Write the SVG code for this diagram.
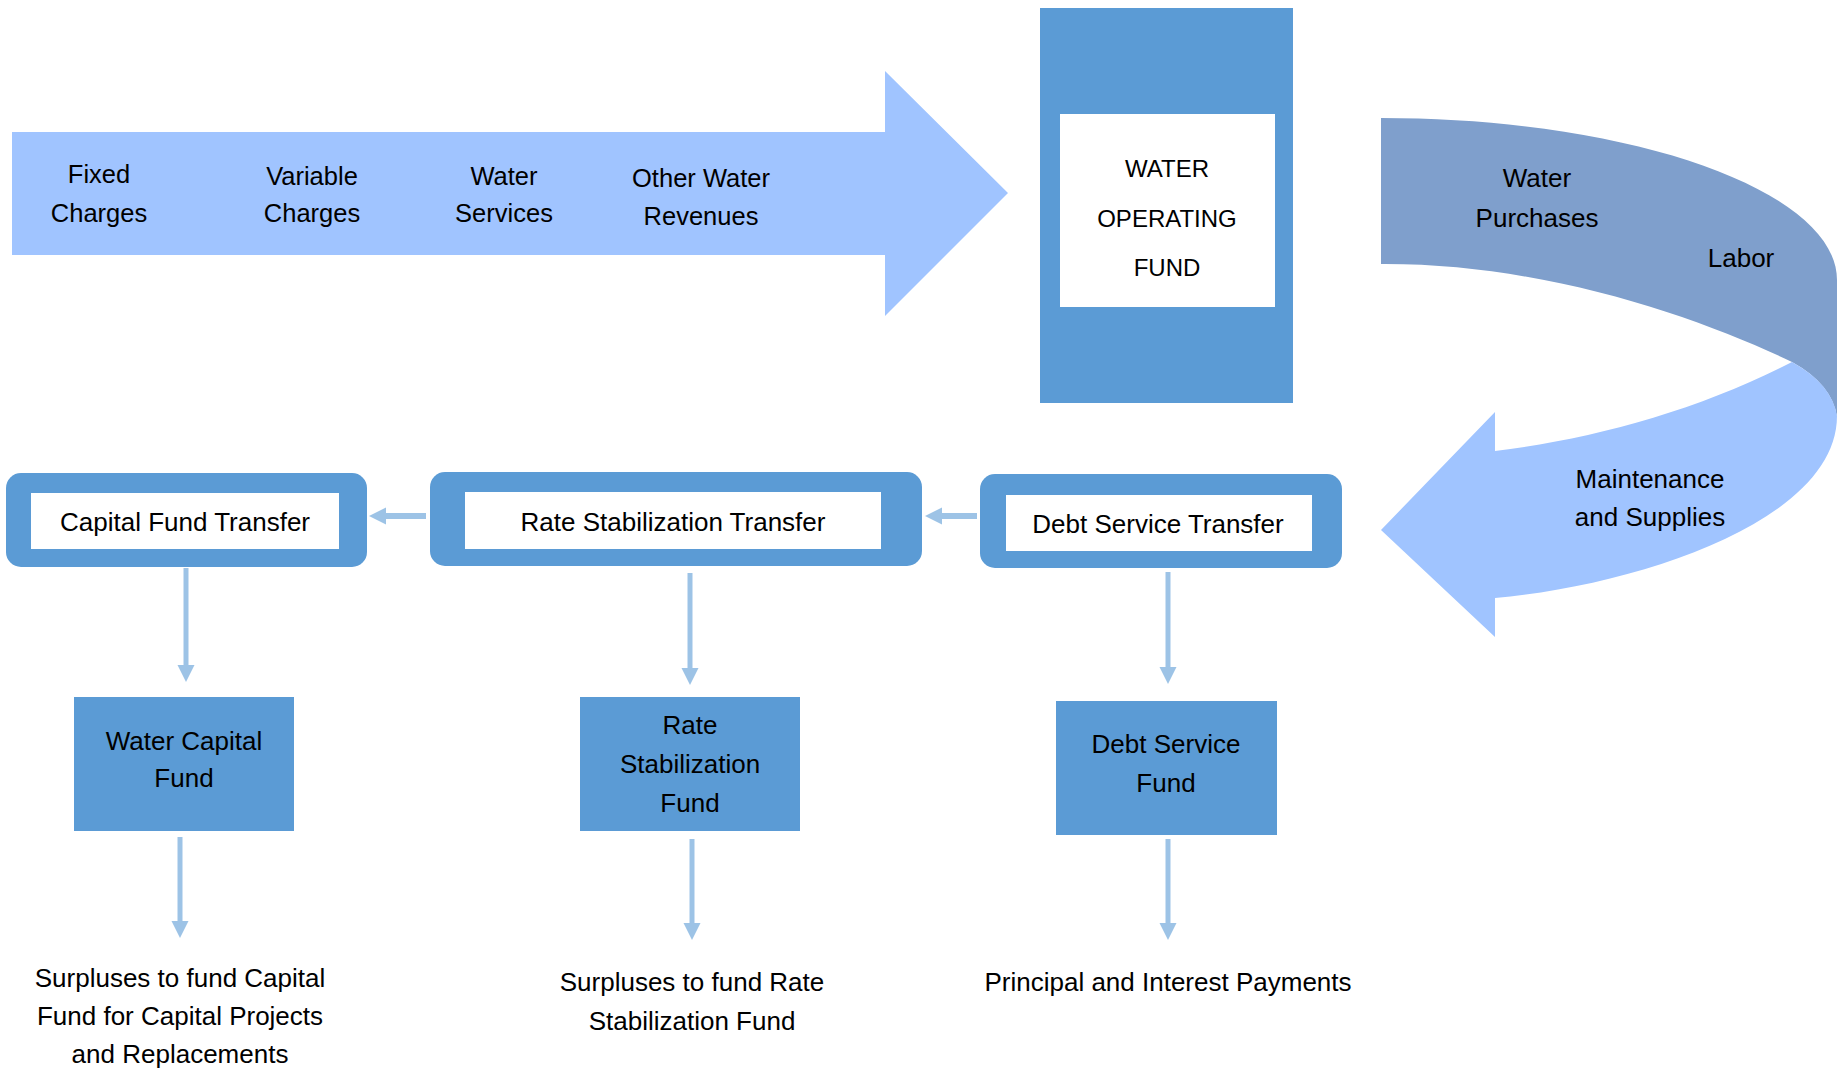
<svg xmlns="http://www.w3.org/2000/svg" width="1846" height="1070" viewBox="0 0 1846 1070">
<style>
  text { font-family: "Liberation Sans", Arial, sans-serif; fill: #000; text-anchor: middle; }
  .t26 { font-size: 26px; }
  .t25 { font-size: 25.5px; }
  .t23 { font-size: 24px; }
  .blue { fill: #5B9BD5; }
  .white { fill: #FFFFFF; }
  .light { fill: #A0C4FF; }
  .dark { fill: #7F9FCC; }
  .conn { stroke: #9DC3E6; fill: none; }
  .h { stroke-width: 6; }
  .v { stroke-width: 5; }
</style>
<defs>
  <marker id="ah" markerUnits="userSpaceOnUse" markerWidth="18" markerHeight="18" refX="0" refY="8.5" orient="auto">
    <path d="M0,0 L17,8.5 L0,17 Z" fill="#9DC3E6"/>
  </marker>
</defs>
<rect x="0" y="0" width="1846" height="1070" fill="#FFFFFF"/>

<g id="revenue-arrow">
  <path class="light" d="M12,132 L885,132 L885,71 L1008,193 L885,316 L885,255 L12,255 Z"/>
  <text class="t25" x="99" y="183">Fixed</text>
  <text class="t25" x="99" y="222">Charges</text>
  <text class="t25" x="312" y="185">Variable</text>
  <text class="t25" x="312" y="222">Charges</text>
  <text class="t25" x="504" y="185">Water</text>
  <text class="t25" x="504" y="222">Services</text>
  <text class="t25" x="701" y="187">Other Water</text>
  <text class="t25" x="701" y="225">Revenues</text>
</g>

<g id="water-operating-fund">
  <rect class="blue" x="1040" y="8" width="253" height="395"/>
  <rect class="white" x="1060" y="114" width="215" height="193"/>
  <text class="t23" x="1167" y="177">WATER</text>
  <text class="t23" x="1167" y="227">OPERATING</text>
  <text class="t23" x="1167" y="276">FUND</text>
</g>

<g id="expense-arrow">
  <path class="dark" d="M1381,118 C1633,118 1837,191 1837,280 L1837,417 Q1832,384 1792,362 C1700,318 1545,263 1381,264 Z"/>
  <path class="light" d="M1792,362 C1700,410 1590,440 1495,451 L1495,412 L1381,530 L1495,637 L1495,598 C1640,585 1837,520 1837,416 Q1832,384 1792,362 Z"/>
  <text class="t26" x="1537" y="187">Water</text>
  <text class="t26" x="1537" y="227">Purchases</text>
  <text class="t26" x="1741" y="267">Labor</text>
  <text class="t26" x="1650" y="488">Maintenance</text>
  <text class="t26" x="1650" y="526">and Supplies</text>
</g>

<g id="capital-fund-transfer">
  <rect class="blue" x="6" y="473" width="361" height="94" rx="15"/>
  <rect class="white" x="31" y="493" width="308" height="56"/>
  <text class="t26" x="185" y="531">Capital Fund Transfer</text>
</g>

<g id="rate-stabilization-transfer">
  <rect class="blue" x="430" y="472" width="492" height="94" rx="15"/>
  <rect class="white" x="465" y="492" width="416" height="57"/>
  <text class="t26" x="673" y="531">Rate Stabilization Transfer</text>
</g>

<g id="debt-service-transfer">
  <rect class="blue" x="980" y="474" width="362" height="94" rx="15"/>
  <rect class="white" x="1006" y="495" width="306" height="56"/>
  <text class="t26" x="1158" y="533">Debt Service Transfer</text>
</g>

<g id="water-capital-fund">
  <rect class="blue" x="74" y="697" width="220" height="134"/>
  <text class="t26" x="184" y="750">Water Capital</text>
  <text class="t26" x="184" y="787">Fund</text>
</g>

<g id="rate-stabilization-fund">
  <rect class="blue" x="580" y="697" width="220" height="134"/>
  <text class="t26" x="690" y="734">Rate</text>
  <text class="t26" x="690" y="773">Stabilization</text>
  <text class="t26" x="690" y="812">Fund</text>
</g>

<g id="debt-service-fund">
  <rect class="blue" x="1056" y="701" width="221" height="134"/>
  <text class="t26" x="1166" y="753">Debt Service</text>
  <text class="t26" x="1166" y="792">Fund</text>
</g>

<g id="capital-outcome">
  <text class="t26" x="180" y="987">Surpluses to fund Capital</text>
  <text class="t26" x="180" y="1025">Fund for Capital Projects</text>
  <text class="t26" x="180" y="1063">and Replacements</text>
</g>

<g id="rate-outcome">
  <text class="t26" x="692" y="991">Surpluses to fund Rate</text>
  <text class="t26" x="692" y="1030">Stabilization Fund</text>
</g>

<g id="debt-outcome">
  <text class="t26" x="1168" y="991">Principal and Interest Payments</text>
</g>

<g id="connectors">
  <path class="conn h" d="M426,516 L386,516" marker-end="url(#ah)"/>
  <path class="conn h" d="M977,516 L942,516" marker-end="url(#ah)"/>
  <path class="conn v" d="M186,568 L186,665" marker-end="url(#ah)"/>
  <path class="conn v" d="M690,573 L690,668" marker-end="url(#ah)"/>
  <path class="conn v" d="M1168,572 L1168,667" marker-end="url(#ah)"/>
  <path class="conn v" d="M180,837 L180,921" marker-end="url(#ah)"/>
  <path class="conn v" d="M692,839 L692,923" marker-end="url(#ah)"/>
  <path class="conn v" d="M1168,839 L1168,923" marker-end="url(#ah)"/>
</g>
</svg>
